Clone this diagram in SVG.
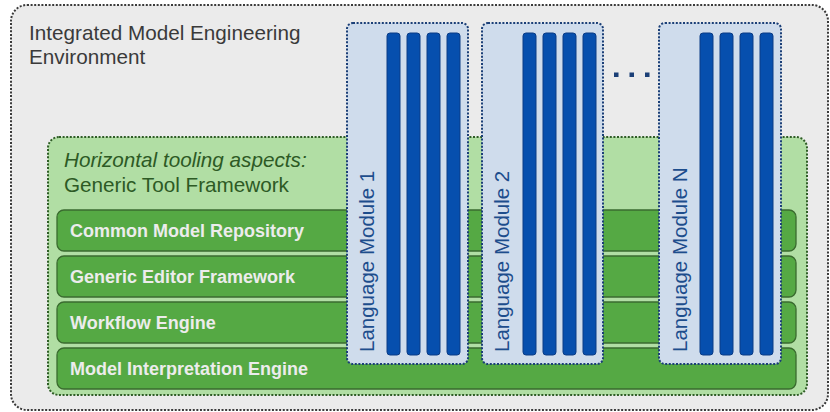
<svg xmlns="http://www.w3.org/2000/svg" width="830" height="412" viewBox="0 0 830 412">
<style>
text{font-family:"Liberation Sans",Arial,sans-serif}
.outer{fill:#ebebeb;stroke:#3a3a3a;stroke-width:2;stroke-dasharray:2 1.6}
.title{font-size:20.7px;fill:#3a3a3a}
.gbox{fill:#b1dea4;stroke:#2f5d26;stroke-width:2;stroke-dasharray:2 1.6}
.gtext{font-size:20.7px;fill:#2d5a25}
.bar{fill:#55a944;stroke:#3a6b2f;stroke-width:1.3}
.blabel{font-size:18px;font-weight:bold;fill:#ececec}
.mod{fill:#cfdcec;stroke:#1b3f77;stroke-width:2;stroke-dasharray:2 1.6}
.mtext{font-size:20.5px;fill:#1d4d8c}
.bb{fill:#064fae;stroke:#0a3c86;stroke-width:1}
.dot{fill:#1b3f77}
</style>
<defs>
<g id="bars4">
<rect class="bb" x="0" y="0" width="13" height="322" rx="3"/>
<rect class="bb" x="20" y="0" width="13" height="322" rx="3"/>
<rect class="bb" x="40" y="0" width="13" height="322" rx="3"/>
<rect class="bb" x="60" y="0" width="13" height="322" rx="3"/>
</g>
</defs>
<g id="environment">
<rect class="outer" x="11" y="5" width="817" height="405" rx="16"/>
<text class="title" x="29" y="40">Integrated Model Engineering</text>
<text class="title" x="29" y="63.5">Environment</text>
</g>
<g id="tool-framework">
<rect class="gbox" x="48" y="137" width="759" height="258" rx="11"/>
<text class="gtext" x="64" y="167" font-style="italic">Horizontal tooling aspects:</text>
<text class="gtext" x="64" y="192">Generic Tool Framework</text>
</g>
<g id="common-model-repository">
<rect class="bar" x="57" y="210" width="739" height="41" rx="7"/>
<text class="blabel" x="70" y="237">Common Model Repository</text>
</g>
<g id="generic-editor-framework">
<rect class="bar" x="57" y="256" width="739" height="41" rx="7"/>
<text class="blabel" x="70" y="283">Generic Editor Framework</text>
</g>
<g id="workflow-engine">
<rect class="bar" x="57" y="302" width="739" height="41" rx="7"/>
<text class="blabel" x="70" y="329">Workflow Engine</text>
</g>
<g id="model-interpretation-engine">
<rect class="bar" x="57" y="348" width="739" height="41" rx="7"/>
<text class="blabel" x="70" y="375">Model Interpretation Engine</text>
</g>
<g id="language-module-1">
<rect class="mod" x="347" y="23" width="121" height="341" rx="6"/>
<use href="#bars4" x="387" y="33"/>
<text class="mtext" transform="translate(374,352) rotate(-90)">Language Module 1</text>
</g>
<g id="language-module-2">
<rect class="mod" x="482" y="23" width="121" height="341" rx="6"/>
<use href="#bars4" x="523" y="33"/>
<text class="mtext" transform="translate(509,352) rotate(-90)">Language Module 2</text>
</g>
<g id="ellipsis">
<rect class="dot" x="614" y="72.5" width="4.5" height="4.5"/>
<rect class="dot" x="629.5" y="72.5" width="4.5" height="4.5"/>
<rect class="dot" x="645" y="72.5" width="4.5" height="4.5"/>
</g>
<g id="language-module-n">
<rect class="mod" x="659" y="23" width="122" height="341" rx="6"/>
<use href="#bars4" x="700" y="33"/>
<text class="mtext" transform="translate(687,352) rotate(-90)">Language Module N</text>
</g>
</svg>
